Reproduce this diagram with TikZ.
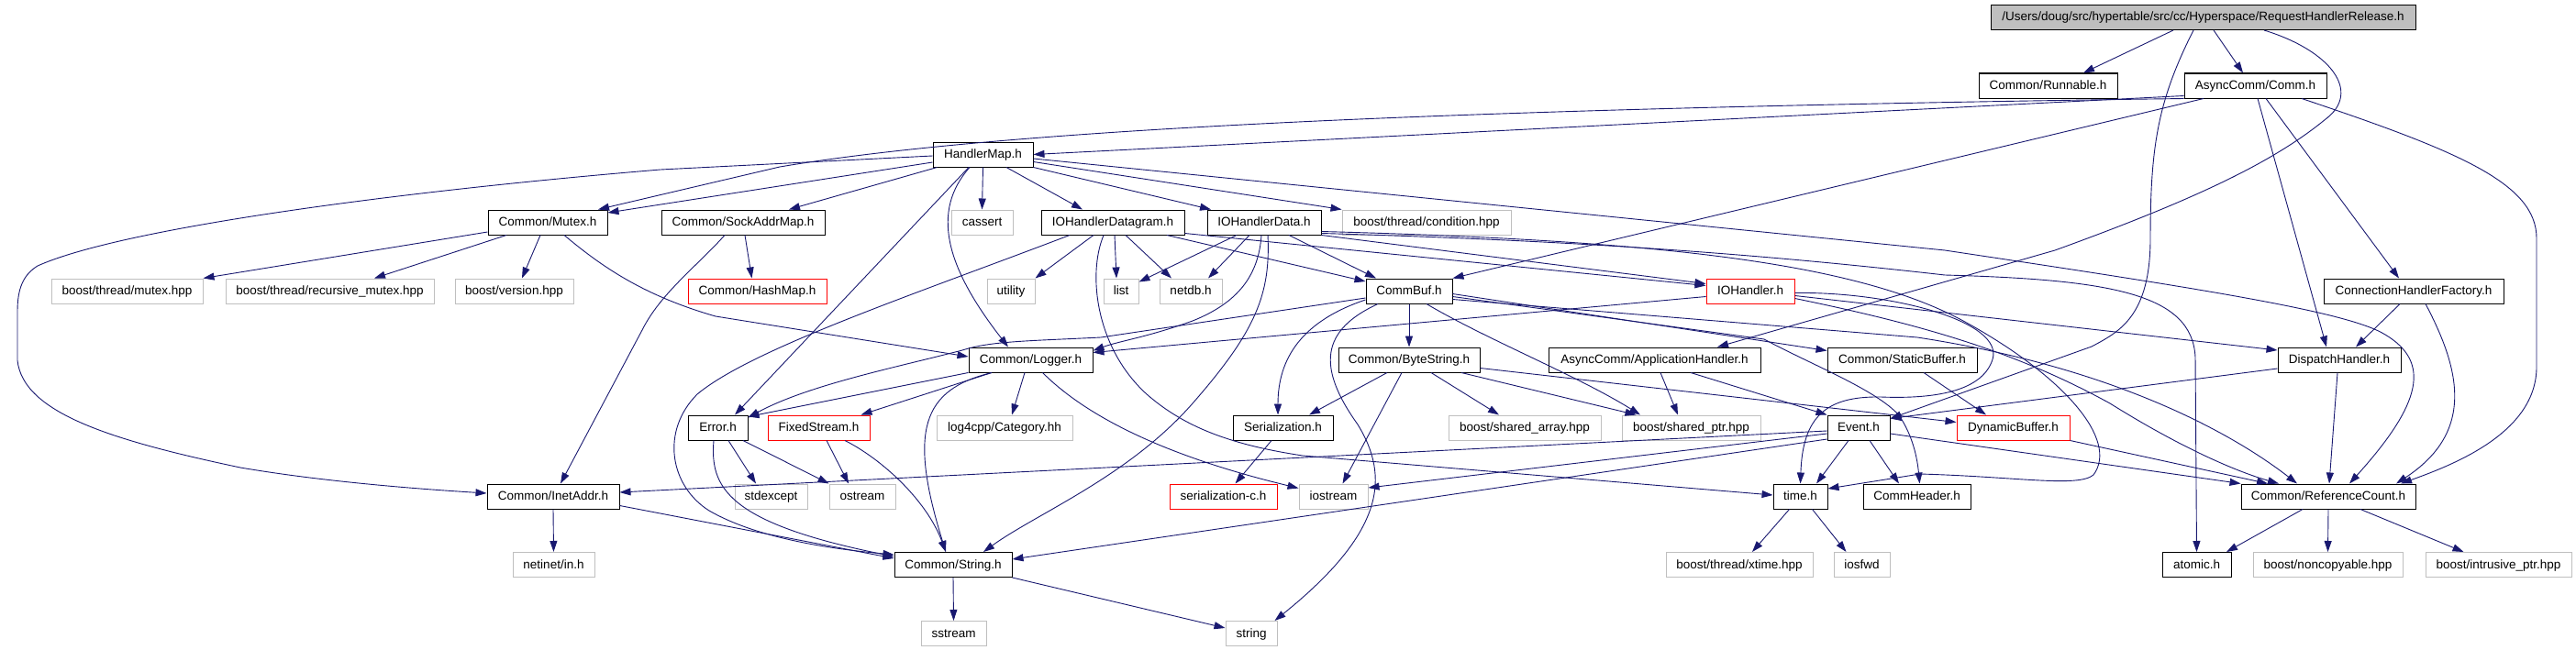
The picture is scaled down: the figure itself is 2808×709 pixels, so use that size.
\documentclass[tikz,border=0pt]{standalone}
\usepackage{fontspec}
\setmainfont{Liberation Sans}
\usetikzlibrary{arrows.meta}
\definecolor{edgeblue}{HTML}{191970}
\definecolor{sysgray}{HTML}{BFBFBF}
\newcommand\nodefont{\fontsize{13.5pt}{16pt}\selectfont}
\begin{document}
\begin{tikzpicture}[x=1pt,y=-1pt,
  box/.style={draw=black, line width=1pt, minimum height=27pt, inner sep=0pt, text height=11pt, text depth=3pt, font=\nodefont},
  sys/.style={box, draw=sysgray},
  trunc/.style={box, draw=red},
  rootbox/.style={box, fill=sysgray},
  e/.style={draw=edgeblue, line width=0.9pt, -{Triangle[length=12pt,width=8pt]}}]
\useasboundingbox (0,0) rectangle (2808,709);
% nodes
\node[rootbox, minimum width=463pt] (root) at (2401.5,19) {/Users/doug/src/hypertable/src/cc/Hyperspace/RequestHandlerRelease.h};
\node[box, minimum width=151pt] (run) at (2232.5,93.5) {Common/Runnable.h};
\node[box, minimum width=155pt] (comm) at (2458.5,93.5) {AsyncComm/Comm.h};
\node[box, minimum width=109pt] (hm) at (1071.5,168.5) {HandlerMap.h};
\node[box, minimum width=130pt] (mutex) at (597,242.5) {Common/Mutex.h};
\node[box, minimum width=178pt] (sam) at (810,242.5) {Common/SockAddrMap.h};
\node[sys, minimum width=67pt] (cassert) at (1070.5,242.5) {cassert};
\node[box, minimum width=156pt] (iohdg) at (1213,242.5) {IOHandlerDatagram.h};
\node[box, minimum width=124pt] (iohd) at (1378,242.5) {IOHandlerData.h};
\node[sys, minimum width=184pt] (cond) at (1555,242.5) {boost/thread/condition.hpp};
\node[sys, minimum width=165pt] (bmutex) at (138.5,317.5) {boost/thread/mutex.hpp};
\node[sys, minimum width=227pt] (brmutex) at (359.5,317.5) {boost/thread/recursive\_mutex.hpp};
\node[sys, minimum width=129pt] (bversion) at (560.5,317.5) {boost/version.hpp};
\node[trunc, minimum width=151pt] (hashmap) at (825.5,317.5) {Common/HashMap.h};
\node[sys, minimum width=52pt] (utility) at (1102,317.5) {utility};
\node[sys, minimum width=38pt] (list) at (1222,317.5) {list};
\node[sys, minimum width=68pt] (netdb) at (1298,317.5) {netdb.h};
\node[box, minimum width=94pt] (commbuf) at (1536,317.5) {CommBuf.h};
\node[trunc, minimum width=96pt] (ioh) at (1908,317.5) {IOHandler.h};
\node[box, minimum width=196pt] (chf) at (2631,317.5) {ConnectionHandlerFactory.h};
\node[box, minimum width=135pt] (logger) at (1123.5,392.5) {Common/Logger.h};
\node[box, minimum width=154pt] (bytestr) at (1536,392.5) {Common/ByteString.h};
\node[box, minimum width=231pt] (apph) at (1803.5,392.5) {AsyncComm/ApplicationHandler.h};
\node[box, minimum width=163pt] (sbuf) at (2073.5,392.5) {Common/StaticBuffer.h};
\node[box, minimum width=134pt] (disp) at (2550,392.5) {DispatchHandler.h};
\node[box, minimum width=65pt] (error) at (782.5,466.5) {Error.h};
\node[trunc, minimum width=111pt] (fixed) at (892.5,466.5) {FixedStream.h};
\node[sys, minimum width=148pt] (log4cpp) at (1095,466.5) {log4cpp/Category.hh};
\node[box, minimum width=109pt] (serial) at (1398.5,466.5) {Serialization.h};
\node[sys, minimum width=166pt] (sarr) at (1662,466.5) {boost/shared\_array.hpp};
\node[sys, minimum width=151pt] (sptr) at (1843.5,466.5) {boost/shared\_ptr.hpp};
\node[box, minimum width=68pt] (event) at (2026,466.5) {Event.h};
\node[trunc, minimum width=123pt] (dynbuf) at (2194.5,466.5) {DynamicBuffer.h};
\node[box, minimum width=144pt] (inet) at (603,541.5) {Common/InetAddr.h};
\node[sys, minimum width=79pt] (stdexc) at (840.5,541.5) {stdexcept};
\node[sys, minimum width=72pt] (ostream) at (940,541.5) {ostream};
\node[trunc, minimum width=117pt] (serc) at (1333.5,541.5) {serialization-c.h};
\node[sys, minimum width=75pt] (iostream) at (1453.5,541.5) {iostream};
\node[box, minimum width=59pt] (timeh) at (1962.5,541.5) {time.h};
\node[box, minimum width=117pt] (commhdr) at (2089.5,541.5) {CommHeader.h};
\node[box, minimum width=190pt] (refcnt) at (2538,541.5) {Common/ReferenceCount.h};
\node[sys, minimum width=89pt] (netin) at (603.5,616) {netinet/in.h};
\node[box, minimum width=128pt] (cstr) at (1039,616) {Common/String.h};
\node[sys, minimum width=160pt] (xtime) at (1896,616) {boost/thread/xtime.hpp};
\node[sys, minimum width=61pt] (iosfwd) at (2029.5,616) {iosfwd};
\node[box, minimum width=75pt] (atomic) at (2394.5,616) {atomic.h};
\node[sys, minimum width=163pt] (noncp) at (2537.5,616) {boost/noncopyable.hpp};
\node[sys, minimum width=159pt] (intru) at (2723.5,616) {boost/intrusive\_ptr.hpp};
\node[sys, minimum width=71pt] (sstream) at (1039.5,691) {sstream};
\node[sys, minimum width=56pt] (stdstr) at (1364,691) {string};
% root
\draw[e] ([xshift=-32.5pt]root.south) -- ([xshift=38.5pt]run.north);
\draw[e] ([xshift=11.5pt]root.south) -- ([xshift=-13.5pt]comm.north);
\draw[e] ([xshift=-10.5pt]root.south) .. controls (2352,110) and (2344,160) .. (2344,260) .. controls (2344,345) and (2310,362) .. (2280,378) -- ([yshift=-4pt]event.north east);
\draw[e] ([xshift=66.5pt]root.south) .. controls (2540,55) and (2575,100) .. (2535,130) .. controls (2480,175) and (2400,215) .. (2240,273) -- ([xshift=68.5pt]apph.north);
% comm
\draw[e] ([yshift=-11pt]comm.west) -- (hm.east);
\draw[e] (comm.south west) .. controls (1600,118) and (1100,140) .. (850,182) -- ([xshift=55pt]mutex.north);
\draw[e] ([xshift=-56.5pt]comm.south) -- (commbuf.north east);
\draw[e] ([xshift=2.5pt]comm.south) -- ([xshift=-14pt]disp.north);
\draw[e] ([xshift=11.5pt]comm.south) -- ([xshift=-16pt]chf.north);
\draw[e] ([xshift=50.5pt]comm.south) .. controls (2680,165) and (2765,200) .. (2765,260) -- (2765,400) .. controls (2765,470) and (2680,505) .. ([xshift=79pt]refcnt.north);
\draw[e] ([xshift=-15pt]chf.south) -- ([xshift=18pt]disp.north);
\draw[e] ([xshift=13pt]chf.south) .. controls (2680,400) and (2700,470) .. ([xshift=74pt]refcnt.north);
% handler map
\draw[e] ([yshift=-1.5pt]hm.west) -- (720,185) .. controls (420,210) and (130,250) .. (41,290) .. controls (25,300) and (19,315) .. (19,340) -- (19,393) .. controls (25,450) and (120,480) .. (262,510) .. controls (350,525) and (450,533) .. ([yshift=3.5pt]inet.west);
\draw[e] ([yshift=-8.5pt]hm.west) -- ([yshift=10.5pt]mutex.east);
\draw[e] ([xshift=-50pt]hm.south) -- ([xshift=50pt]sam.north);
\draw[e] ([xshift=-15.5pt]hm.south) -- ([xshift=18.5pt]error.north);
\draw[e] ([xshift=-14.5pt]hm.south) .. controls (1015,230) and (1030,290) .. ([xshift=-24.5pt]logger.north);
\draw[e] (hm.south) -- (cassert.north);
\draw[e] ([xshift=25.5pt]hm.south) -- ([xshift=-33pt]iohdg.north);
\draw[e] (hm.south east) -- ([xshift=-58pt]iohd.north);
\draw[e] ([yshift=-8pt]hm.east) -- (cond.north west);
\draw[e] ([yshift=-4.5pt]hm.east) -- (2120,273) .. controls (2400,315) and (2560,340) .. (2600,365) .. controls (2650,395) and (2640,440) .. ([xshift=23pt]refcnt.north);
% mutex
\draw[e] ([yshift=-10.5pt]mutex.west) -- (bmutex.north east);
\draw[e] ([xshift=-45pt]mutex.south) -- ([xshift=48.5pt]brmutex.north);
\draw[e] ([xshift=-8pt]mutex.south) -- ([xshift=8.5pt]bversion.north);
\draw[e] ([xshift=18pt]mutex.south) .. controls (655,290) and (700,322) .. (780,345) -- ([yshift=3.5pt]logger.west);
% sockaddrmap
\draw[e] ([xshift=2pt]sam.south) -- ([xshift=-6pt]hashmap.north);
\draw[e] ([xshift=-20pt]sam.south) .. controls (760,290) and (720,320) .. (700,360) -- ([xshift=8pt]inet.north);
% iohandlerdatagram
\draw[e] ([xshift=-47pt]iohdg.south) .. controls (1000,320) and (820,380) .. (760,430) .. controls (720,470) and (730,530) .. (773,557) .. controls (830,590) and (920,600) .. ([yshift=11pt]cstr.west);
\draw[e] ([xshift=-21pt]iohdg.south) -- (utility.north east);
\draw[e] ([xshift=2pt]iohdg.south) -- ([xshift=-5pt]list.north);
\draw[e] ([xshift=14pt]iohdg.south) -- ([xshift=-21pt]netdb.north);
\draw[e] ([xshift=-10pt]iohdg.south) .. controls (1185,300) and (1195,380) .. (1250,430) .. controls (1290,465) and (1340,485) .. (1420,497) -- ([yshift=1.5pt]timeh.west);
\draw[e] ([xshift=59pt]iohdg.south) -- ([yshift=10.5pt]commbuf.west);
\draw[e] ([yshift=-12pt]iohdg.east) -- ([yshift=6pt]ioh.west);
% iohandlerdata
\draw[e] ([xshift=-30pt]iohd.south) -- ([yshift=10pt]list.east);
\draw[e] ([xshift=-16pt]iohd.south) -- ([xshift=19pt]netdb.north);
\draw[e] ([xshift=-3pt]iohd.south) .. controls (1372,300) and (1350,330) .. (1300,350) .. controls (1250,368) and (1220,372) .. ([yshift=10pt]logger.east);
\draw[e] ([xshift=4pt]iohd.south) .. controls (1385,320) and (1370,360) .. (1300,440) .. controls (1230,520) and (1130,560) .. ([xshift=33pt]cstr.north);
\draw[e] ([xshift=27pt]iohd.south) -- ([xshift=-36pt]commbuf.north);
\draw[e] (iohd.south east) -- ([yshift=8pt]ioh.west);
\draw[e] ([yshift=-12pt]iohd.east) .. controls (1700,262) and (1900,275) .. (2120,300) .. controls (2300,305) and (2390,320) .. (2393,390) -- (atomic.north);
\draw[e] ([yshift=-10pt]iohd.east) .. controls (1800,262) and (2020,285) .. (2140,350) .. controls (2250,410) and (2310,480) .. (2282,518) .. controls (2265,532) and (2200,520) .. (2093,517) -- ([yshift=8.5pt]timeh.east);
% iohandler
\draw[e] ([yshift=-5pt]ioh.east) -- ([yshift=10.5pt]disp.west);
\draw[e] ([yshift=-6pt]ioh.west) -- ([yshift=8pt]logger.east);
\draw[e] ([yshift=-2pt]ioh.east) .. controls (2060,318) and (2185,350) .. (2172,392) .. controls (2160,430) and (2100,435) .. (2050,433) .. controls (1990,432) and (1965,455) .. (timeh.north);
\draw[e] ([yshift=-8pt]ioh.east) .. controls (2100,355) and (2200,385) .. (2300,440) .. controls (2380,490) and (2440,515) .. ([xshift=-54pt]refcnt.north);
% commbuf
\draw[e] (commbuf.south) -- (bytestr.north);
\draw[e] ([yshift=-9.5pt]commbuf.west) .. controls (1420,350) and (1393,390) .. ([xshift=-5.5pt]serial.north);
\draw[e] ([xshift=-34pt]commbuf.south) .. controls (1440,360) and (1435,400) .. (1480,463) .. controls (1515,520) and (1510,580) .. ([xshift=-3pt]stdstr.north east);
\draw[e] ([xshift=19pt]commbuf.south) .. controls (1620,370) and (1720,410) .. ([xshift=-55.5pt]sptr.north);
\draw[e] ([yshift=-3pt]commbuf.east) -- ([yshift=10pt]sbuf.west);
\draw[e] ([yshift=-6pt]commbuf.east) -- (1923,370) .. controls (1975,398) and (2045,425) .. (2070,453) .. controls (2085,475) and (2090,500) .. ([xshift=3pt]commhdr.north);
\draw[e] ([yshift=-9pt]commbuf.east) -- (2090,368) .. controls (2300,400) and (2430,470) .. ([xshift=-34pt]refcnt.north);
\draw[e] ([yshift=-7.5pt]commbuf.west) -- (1200,368) .. controls (1120,372) and (1080,372) .. (1049,382) .. controls (980,400) and (880,420) .. ([yshift=-3pt]error.north east);
% bytestring
\draw[e] ([xshift=-24pt]bytestr.south) -- ([xshift=28.5pt]serial.north);
\draw[e] ([xshift=-8pt]bytestr.south) -- ([xshift=10pt]iostream.north);
\draw[e] ([xshift=24pt]bytestr.south) -- ([xshift=-28pt]sarr.north);
\draw[e] ([xshift=57pt]bytestr.south) -- ([xshift=-60pt]sptr.north);
\draw[e] ([yshift=-9pt]bytestr.east) -- ([yshift=6pt]dynbuf.west);
% application handler, static buffer, dispatch
\draw[e] ([xshift=6.5pt]apph.south) -- ([xshift=-14.5pt]sptr.north);
\draw[e] ([xshift=39.5pt]apph.south) -- (event.north west);
\draw[e] ([xshift=23.5pt]sbuf.south) -- ([xshift=-29.5pt]dynbuf.north);
\draw[e] ([yshift=-9.5pt]disp.west) -- ([yshift=-4pt]event.north east);
\draw[e] ([xshift=-2pt]disp.south) -- ([xshift=1pt]refcnt.north);
% event
\draw[e] ([yshift=-6.5pt]event.west) -- ([yshift=9.5pt]iostream.east);
\draw[e] ([yshift=-12.5pt]event.west) -- ([yshift=6pt]cstr.east);
\draw[e] ([yshift=-3.5pt]event.west) -- ([yshift=4.5pt]inet.east);
\draw[e] ([xshift=-11pt]event.south) -- ([xshift=17.5pt]timeh.north);
\draw[e] ([xshift=12pt]event.south) -- ([xshift=-19.5pt]commhdr.north);
\draw[e] ([yshift=-6.5pt]event.east) -- (refcnt.north west);
\draw[e] (dynbuf.south east) -- ([xshift=-66pt]refcnt.north);
% logger
\draw[e] (logger.south west) -- ([yshift=-2pt]error.north east);
\draw[e] ([xshift=-42.5pt]logger.south) -- ([xshift=46pt]fixed.north);
\draw[e] ([xshift=-42.5pt]logger.south) .. controls (1005,425) and (990,470) .. ([xshift=-8pt]cstr.north);
\draw[e] ([xshift=-6.5pt]logger.south) -- ([xshift=8pt]log4cpp.north);
\draw[e] ([xshift=13pt]logger.south) .. controls (1180,450) and (1260,495) .. ([yshift=9pt]iostream.west);
% fixedstream, error, inetaddr, string
\draw[e] ([xshift=8.5pt]fixed.south) -- ([xshift=-15pt]ostream.north);
\draw[e] ([xshift=28.5pt]fixed.south) .. controls (960,500) and (1010,545) .. ([xshift=-8pt]cstr.north);
\draw[e] ([xshift=11.5pt]error.south) -- ([xshift=-16.5pt]stdexc.north);
\draw[e] ([xshift=27.5pt]error.south) -- (ostream.north west);
\draw[e] ([xshift=-4.5pt]error.south) .. controls (774,530) and (790,570) .. ([yshift=9pt]cstr.west);
\draw[e] ([yshift=-10pt]inet.east) -- ([yshift=7pt]cstr.west);
\draw[e] (inet.south) -- (netin.north);
\draw[e] (cstr.south) -- (sstream.north);
\draw[e] (cstr.south east) -- ([yshift=6pt]stdstr.west);
% misc
\draw[e] ([xshift=-12.5pt]serial.south) -- ([xshift=13pt]serc.north);
\draw[e] ([xshift=-12pt]timeh.south) -- ([xshift=14pt]xtime.north);
\draw[e] ([xshift=13pt]timeh.south) -- ([xshift=-17pt]iosfwd.north);
\draw[e] ([xshift=-28pt]refcnt.south) -- ([xshift=32.5pt]atomic.north);
\draw[e] (refcnt.south) -- (noncp.north);
\draw[e] ([xshift=35pt]refcnt.south) -- ([xshift=-38pt]intru.north);
\end{tikzpicture}
\end{document}
